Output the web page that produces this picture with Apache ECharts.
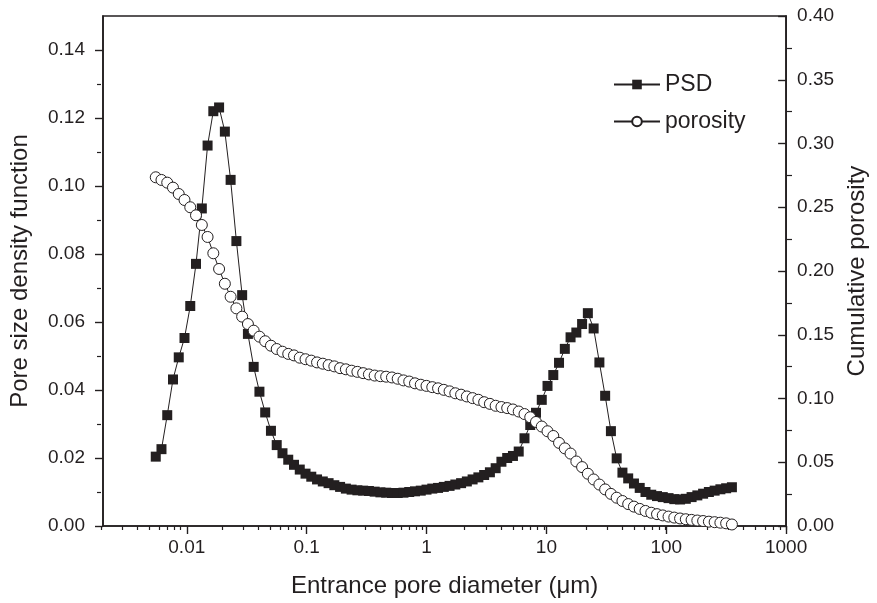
<!DOCTYPE html>
<html><head><meta charset="utf-8">
<script src="https://cdn.jsdelivr.net/npm/echarts@6/dist/echarts.min.js"></script>
<style>html,body{margin:0;padding:0;background:#fff}#c{width:877px;height:603px}</style>
</head><body><div id="c"></div>
<script>
// Entrance pore diameter (µm)
const diameters = [0.00551, 0.00615, 0.00687, 0.00767, 0.00857, 0.00957, 0.01069, 0.01194, 0.01335, 0.01491,
  0.01665, 0.0186, 0.02078, 0.02321, 0.02593, 0.02897, 0.03236, 0.03614, 0.04037, 0.0451,
  0.05037, 0.05627, 0.06286, 0.07021, 0.07843, 0.08761, 0.09786, 0.1093, 0.1221, 0.1364,
  0.1524, 0.1702, 0.1901, 0.2124, 0.2372, 0.265, 0.296, 0.3306, 0.3693, 0.4125,
  0.4608, 0.5148, 0.575, 0.6423, 0.7175, 0.8014, 0.8953, 1.0, 1.117, 1.248,
  1.394, 1.557, 1.739, 1.943, 2.17, 2.424, 2.708, 3.025, 3.379, 3.774,
  4.216, 4.71, 5.261, 5.877, 6.565, 7.333, 8.191, 9.15, 10.22, 11.42,
  12.75, 14.25, 15.91, 17.78, 19.86, 22.18, 24.78, 27.68, 30.92, 34.54,
  38.58, 43.1, 48.14, 53.78, 60.07, 67.1, 74.96, 83.73, 93.53, 104.5,
  116.7, 130.4, 145.6, 162.7, 181.7, 203.0, 226.8, 253.3, 282.9, 316.0, 353.0];
// Pore size density function (left axis)
const psd = [0.0204, 0.0226, 0.0326, 0.0431, 0.0496, 0.0553, 0.0647, 0.0771, 0.0934, 0.1119,
  0.1220, 0.1231, 0.1160, 0.1018, 0.0838, 0.0679, 0.0565, 0.0468, 0.0395, 0.0334,
  0.0280, 0.0238, 0.0214, 0.0195, 0.0180, 0.0166, 0.0154, 0.0145, 0.0137, 0.0131,
  0.0126, 0.0120, 0.0115, 0.0110, 0.0107, 0.0105, 0.0104, 0.0103, 0.0101, 0.0099,
  0.0098, 0.0097, 0.0097, 0.0098, 0.0100, 0.0102, 0.0104, 0.0107, 0.0110, 0.0112,
  0.0115, 0.0118, 0.0122, 0.0126, 0.0131, 0.0137, 0.0143, 0.0150, 0.0158, 0.0170,
  0.0189, 0.0200, 0.0206, 0.0219, 0.0258, 0.0297, 0.0333, 0.0371, 0.0412, 0.0444,
  0.0480, 0.0521, 0.0555, 0.0569, 0.0594, 0.0626, 0.0581, 0.0481, 0.0383, 0.0279,
  0.0199, 0.0157, 0.0140, 0.0125, 0.0112, 0.0100, 0.0092, 0.0088, 0.0085, 0.0082,
  0.0079, 0.0078, 0.0080, 0.0085, 0.0090, 0.0095, 0.0100, 0.0104, 0.0108, 0.0111, 0.0114];
// Cumulative porosity (right axis)
const porosity = [0.2735, 0.2714, 0.2693, 0.2654, 0.2604, 0.2557, 0.2500, 0.2437, 0.2361, 0.2267,
  0.2139, 0.2016, 0.1900, 0.1798, 0.1707, 0.1642, 0.1584, 0.1532, 0.1485, 0.1449,
  0.1414, 0.1388, 0.1367, 0.1350, 0.1338, 0.1320, 0.1308, 0.1297, 0.1283, 0.1273,
  0.1262, 0.1252, 0.1238, 0.1229, 0.1218, 0.1209, 0.1199, 0.1189, 0.1180, 0.1175,
  0.1171, 0.1165, 0.1155, 0.1142, 0.1133, 0.1119, 0.1108, 0.1099, 0.1089, 0.1080,
  0.1068, 0.1056, 0.1041, 0.1030, 0.1016, 0.1003, 0.0990, 0.0971, 0.0958, 0.0943,
  0.0933, 0.0925, 0.0914, 0.0898, 0.0878, 0.0853, 0.0816, 0.0780, 0.0743, 0.0706,
  0.0652, 0.0609, 0.0568, 0.0506, 0.0462, 0.0410, 0.0365, 0.0325, 0.0287, 0.0252,
  0.0222, 0.0196, 0.0172, 0.0152, 0.0134, 0.0118, 0.0104, 0.0093, 0.0083, 0.0074,
  0.0066, 0.0059, 0.0053, 0.0048, 0.0043, 0.0039, 0.0034, 0.0030, 0.0026, 0.0021, 0.0012];

const xMajorTicks = [0.01, 0.1, 1, 10, 100, 1000];
const xMinorTicks = [0.002,0.003,0.004,0.005,0.006,0.007,0.008,0.009,
  0.02,0.03,0.04,0.05,0.06,0.07,0.08,0.09,
  0.2,0.3,0.4,0.5,0.6,0.7,0.8,0.9,
  2,3,4,5,6,7,8,9, 20,30,40,50,60,70,80,90, 200,300,400,500,600,700,800,900];
const leftTicks = [0, 0.02, 0.04, 0.06, 0.08, 0.10, 0.12, 0.14];
const leftMinorTicks = [0.01, 0.03, 0.05, 0.07, 0.09, 0.11, 0.13];
const rightTicks = [0, 0.05, 0.10, 0.15, 0.20, 0.25, 0.30, 0.35, 0.40];
const rightMinorTicks = [0.025, 0.075, 0.125, 0.175, 0.225, 0.275, 0.325, 0.375];

const INK = '#231f20';
const FONT = 'Liberation Sans, Arial, sans-serif';
const gridRect = {left: 101, right: 85, top: 16, bottom: 77};

const chart = echarts.init(document.getElementById('c'), null, {renderer: 'canvas'});
chart.setOption({
  animation: false,
  backgroundColor: '#fff',
  grid: [
    Object.assign({show: true, borderColor: INK, borderWidth: 1.6, backgroundColor: 'transparent'}, gridRect),
    Object.assign({show: false}, gridRect)
  ],
  legend: {
    orient: 'vertical', left: 608, top: 68, itemWidth: 46, itemHeight: 12, itemGap: 14,
    textStyle: {fontFamily: FONT, fontSize: 23, color: INK},
    data: ['PSD', 'porosity']
  },
  xAxis: [
    {
      type: 'log', gridIndex: 0, position: 'bottom', min: 0.002, max: 1000, logBase: 10,
      name: 'Entrance pore diameter (\u03bcm)', nameLocation: 'middle', nameGap: 48,
      nameTextStyle: {fontFamily: FONT, fontSize: 24, color: INK},
      axisLine: {show: true, lineStyle: {color: INK, width: 1.6}},
      axisTick: {show: true, inside: false, length: 8, customValues: xMajorTicks, lineStyle: {color: INK, width: 1.4}},
      axisLabel: {show: true, margin: 12, customValues: xMajorTicks, fontFamily: FONT, fontSize: 19, color: INK,
        formatter: v => String(parseFloat(Number(v).toPrecision(6)))},
      splitLine: {show: false}, minorTick: {show: false}
    },
    {
      type: 'log', gridIndex: 1, position: 'bottom', min: 0.002, max: 1000, logBase: 10,
      axisLine: {show: false},
      axisTick: {show: true, inside: false, length: 4, customValues: xMinorTicks, lineStyle: {color: INK, width: 1.2}},
      axisLabel: {show: false}, splitLine: {show: false}
    }
  ],
  yAxis: [
    {
      type: 'value', gridIndex: 0, position: 'left', min: 0, max: 0.15,
      name: 'Pore size density function', nameLocation: 'middle', nameGap: 71,
      nameTextStyle: {fontFamily: FONT, fontSize: 24, color: INK},
      axisLine: {show: true, lineStyle: {color: INK, width: 1.6}},
      axisTick: {show: true, inside: false, length: 8, customValues: leftTicks, lineStyle: {color: INK, width: 1.4}},
      axisLabel: {show: true, margin: 18, customValues: leftTicks, fontFamily: FONT, fontSize: 19, color: INK,
        formatter: v => Number(v).toFixed(2)},
      splitLine: {show: false}
    },
    {
      type: 'value', gridIndex: 0, position: 'right', min: 0, max: 0.40,
      name: 'Cumulative porosity', nameLocation: 'middle', nameGap: 57, nameRotate: 90,
      nameTextStyle: {fontFamily: FONT, fontSize: 24, color: INK},
      axisLine: {show: true, lineStyle: {color: INK, width: 1.6}},
      axisTick: {show: true, inside: true, length: 8, customValues: rightTicks, lineStyle: {color: INK, width: 1.4}},
      axisLabel: {show: true, margin: 11, customValues: rightTicks, fontFamily: FONT, fontSize: 19, color: INK,
        formatter: v => Number(v).toFixed(2)},
      splitLine: {show: false}
    },
    {
      type: 'value', gridIndex: 1, position: 'left', min: 0, max: 0.15,
      axisLine: {show: false},
      axisTick: {show: true, inside: false, length: 4, customValues: leftMinorTicks, lineStyle: {color: INK, width: 1.2}},
      axisLabel: {show: false}, splitLine: {show: false}
    },
    {
      type: 'value', gridIndex: 1, position: 'right', min: 0, max: 0.40,
      axisLine: {show: false},
      axisTick: {show: true, inside: true, length: 5, customValues: rightMinorTicks, lineStyle: {color: INK, width: 1.2}},
      axisLabel: {show: false}, splitLine: {show: false}
    }
  ],
  series: [
    {
      name: 'PSD', type: 'line', xAxisIndex: 0, yAxisIndex: 0,
      data: diameters.map((d, i) => [d, psd[i]]),
      symbol: 'rect', symbolSize: 10, showAllSymbol: true,
      itemStyle: {color: INK, borderColor: INK, borderWidth: 0},
      lineStyle: {color: INK, width: 1}, z: 2
    },
    {
      name: 'porosity', type: 'line', xAxisIndex: 0, yAxisIndex: 1,
      data: diameters.map((d, i) => [d, porosity[i]]),
      symbol: 'circle', symbolSize: 11, showAllSymbol: true,
      itemStyle: {color: '#ffffff', borderColor: INK, borderWidth: 1},
      lineStyle: {color: INK, width: 1}, z: 3
    }
  ]
});
</script>
</body></html>
